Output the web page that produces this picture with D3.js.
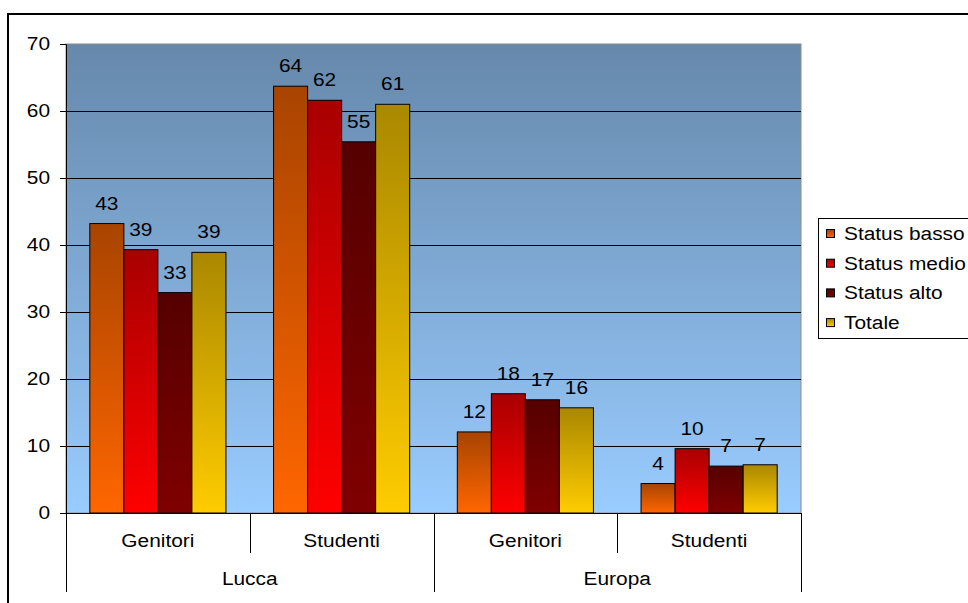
<!DOCTYPE html>
<html>
<head>
<meta charset="utf-8">
<script src="https://cdn.jsdelivr.net/npm/d3@7"></script>
<style>
  body { margin: 0; background: #fff; }
  text { font-family: "Liberation Sans", Arial, sans-serif; fill: #000; }
</style>
</head>
<body>
<svg id="chart" width="968" height="603"></svg>
<script>
// data
var regions = ["Lucca", "Europa"];
var groups = ["Genitori", "Studenti"];
var series = ["Status basso", "Status medio", "Status alto", "Totale"];
var statusBasso = [43.2, 63.7, 12.1, 4.4];
var statusMedio = [39.3, 61.6, 17.8, 9.6];
var statusAlto = [32.9, 55.4, 16.9, 7.0];
var totale = [38.9, 61.0, 15.7, 7.2];
var yTicks = [0, 10, 20, 30, 40, 50, 60, 70];

var values = [statusBasso, statusMedio, statusAlto, totale];
// [top colour, bottom colour] for each series
var colors = [["#a84400", "#ff6600"], ["#a80000", "#ff0000"], ["#550000", "#800000"], ["#aa8800", "#ffcc00"]];
var sx = 1.16; // text in the picture is a bit stretched

var svg = d3.select("#chart");
var plot = {left: 66, right: 801, top: 44, bottom: 513};

var cats = [];
regions.forEach(function(r) {
    groups.forEach(function(g) { cats.push(r + "|" + g); });
});

var x = d3.scaleBand().domain(cats).range([plot.left, plot.right]);
var bw = x.bandwidth() / 5.4;
var y = d3.scaleLinear().domain([0, 70]).range([plot.bottom, plot.top]);

var defs = svg.append("defs");
var bg = defs.append("linearGradient").attr("id", "bg")
    .attr("x1", 0).attr("y1", 0).attr("x2", 0).attr("y2", 1);
bg.append("stop").attr("offset", 0).attr("stop-color", "#6688ab");
bg.append("stop").attr("offset", 1).attr("stop-color", "#99ccff");

colors.forEach(function(c, i) {
    var g = defs.append("linearGradient").attr("id", "g" + i)
        .attr("x1", 0).attr("y1", 0).attr("x2", 0).attr("y2", 1);
    g.append("stop").attr("offset", 0).attr("stop-color", c[0]);
    g.append("stop").attr("offset", 1).attr("stop-color", c[1]);
});

// outer chart border
svg.append("rect")
    .attr("x", 8).attr("y", 14).attr("width", 980).attr("height", 620)
    .attr("fill", "none").attr("stroke", "#000").attr("stroke-width", 2);

// plot area
svg.append("rect")
    .attr("x", plot.left).attr("y", plot.top)
    .attr("width", plot.right - plot.left).attr("height", plot.bottom - plot.top)
    .attr("fill", "url(#bg)").attr("stroke", "#8c8c8c").attr("stroke-width", 1);

// grid lines
svg.append("g").selectAll("line")
    .data(yTicks.filter(function(d) { return d > 0 && d < 70; }))
    .enter().append("line")
    .attr("x1", plot.left).attr("x2", plot.right)
    .attr("y1", function(d) { return Math.round(y(d)) + 0.5; })
    .attr("y2", function(d) { return Math.round(y(d)) + 0.5; })
    .attr("stroke", "#000").attr("stroke-width", 1);

// y axis
var yAxis = svg.append("g")
    .attr("transform", "translate(" + plot.left + ",0)")
    .call(d3.axisLeft(y).tickValues(yTicks).tickSize(6).tickPadding(9));
yAxis.select(".domain").attr("stroke", "#000");
yAxis.selectAll(".tick line").attr("stroke", "#000");
yAxis.selectAll("text")
    .style("font-size", "18px")
    .attr("fill", "#000")
    .attr("transform", "scale(" + sx + ",1)")
    .attr("x", -16 / sx);

// bars
var bars = svg.append("g");
values.forEach(function(vals, si) {
    bars.selectAll(".s" + si)
        .data(vals)
        .enter().append("rect")
        .attr("class", "s" + si)
        .attr("x", function(d, i) { return x(cats[i]) + bw * 0.7 + si * bw; })
        .attr("y", function(d) { return y(d); })
        .attr("width", bw)
        .attr("height", function(d) { return y(0) - y(d); })
        .attr("fill", "url(#g" + si + ")")
        .attr("stroke", "#000").attr("stroke-width", 1);

    bars.selectAll(".l" + si)
        .data(vals)
        .enter().append("text")
        .attr("class", "l" + si)
        .attr("text-anchor", "middle")
        .style("font-size", "18px")
        .attr("transform", function(d, i) {
            var cx = x(cats[i]) + bw * 0.7 + si * bw + bw / 2;
            return "translate(" + cx + "," + (y(d) - 14) + ") scale(" + sx + ",1)";
        })
        .text(function(d) { return Math.round(d); });
});

// x axis line
svg.append("line")
    .attr("x1", plot.left).attr("x2", plot.right)
    .attr("y1", plot.bottom + 0.5).attr("y2", plot.bottom + 0.5)
    .attr("stroke", "#000");

// two level category axis
var xa = svg.append("g");
cats.forEach(function(c, i) {
    var left = x(c);
    var isRegionStart = (i % groups.length === 0);
    xa.append("line")
        .attr("x1", Math.round(left) + 0.5).attr("x2", Math.round(left) + 0.5)
        .attr("y1", plot.bottom).attr("y2", isRegionStart ? 592 : 553)
        .attr("stroke", "#000");
    xa.append("text")
        .attr("text-anchor", "middle")
        .style("font-size", "18px")
        .attr("transform", "translate(" + (left + x.bandwidth() / 2) + ",547) scale(" + sx + ",1)")
        .text(c.split("|")[1]);
});
xa.append("line")
    .attr("x1", plot.right + 0.5).attr("x2", plot.right + 0.5)
    .attr("y1", plot.bottom).attr("y2", 592)
    .attr("stroke", "#000");
regions.forEach(function(r, ri) {
    var left = x(r + "|" + groups[0]);
    var right = x(r + "|" + groups[groups.length - 1]) + x.bandwidth();
    xa.append("text")
        .attr("text-anchor", "middle")
        .style("font-size", "18px")
        .attr("transform", "translate(" + ((left + right) / 2) + ",585) scale(" + sx + ",1)")
        .text(r);
});

// legend
var legend = svg.append("g").attr("transform", "translate(818,218)");
legend.append("rect")
    .attr("x", 0.5).attr("y", 0.5).attr("width", 200).attr("height", 120)
    .attr("fill", "#fff").attr("stroke", "#000");
var item = legend.selectAll(".item")
    .data(series)
    .enter().append("g")
    .attr("class", "item")
    .attr("transform", function(d, i) { return "translate(0," + (15 + i * 29.7) + ")"; });
item.append("rect")
    .attr("x", 8.5).attr("y", -3.5).attr("width", 8).attr("height", 8)
    .attr("fill", function(d, i) { return "url(#g" + i + ")"; })
    .attr("stroke", "#000");
item.append("text")
    .style("font-size", "18px")
    .attr("transform", "translate(26,7) scale(" + sx + ",1)")
    .text(function(d) { return d; });
</script>
</body>
</html>
